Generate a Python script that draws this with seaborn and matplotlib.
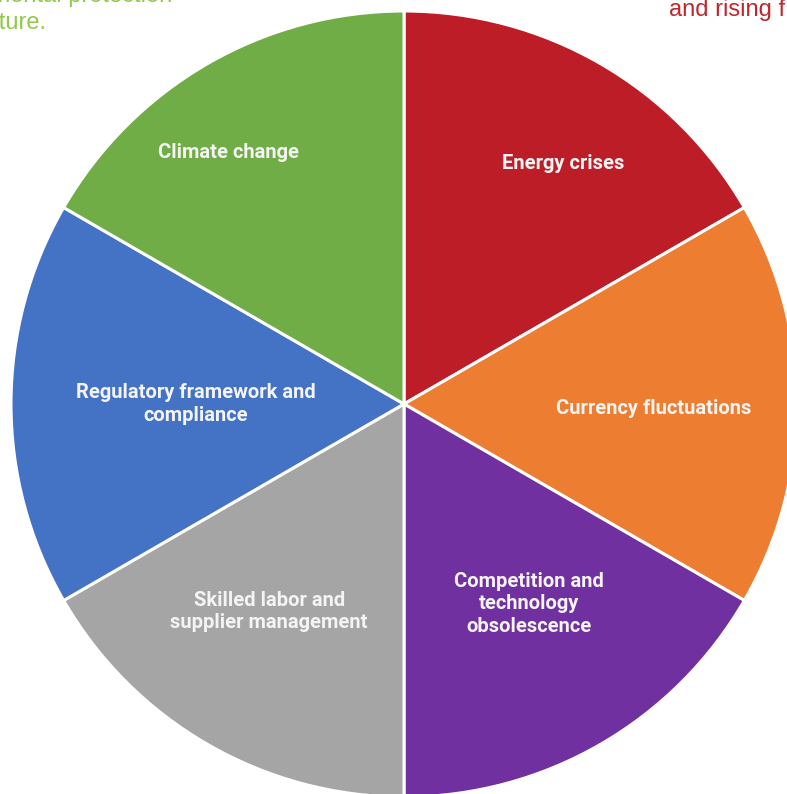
import numpy as np
import matplotlib
matplotlib.use("Agg")
import matplotlib.pyplot as plt
import seaborn as sns

# ---- data ----
categories = [
    "Energy crises",
    "Currency fluctuations",
    "Competition and\ntechnology\nobsolescence",
    "Skilled labor and\nsupplier management",
    "Regulatory framework and\ncompliance",
    "Climate change",
]
shares = [1, 1, 1, 1, 1, 1]
slice_colors = ["#BC1D26", "#ED7D31", "#7030A0", "#A5A5A5", "#4472C4", "#70AD47"]

# cropped surrounding document text
left_snippet = ["environmental protection", "future."]
right_snippet = "and rising f"

# label placement (fraction of radius, angle in degrees)
label_r = [0.735, 0.635, 0.60, 0.63, 0.53, 0.78]
label_ang = [56.5, -1, -58, -123, 180, 125]

sns.set_theme(style="white")
palette = sns.color_palette(slice_colors)

W, H = 787, 794
fig = plt.figure(figsize=(W / 100, H / 100), dpi=100)
ax = fig.add_axes([0, 0, 1, 1])

cx, cy, R = 404, 390, 393
wedges, _ = ax.pie(
    shares,
    colors=palette,
    startangle=90,
    counterclock=False,
    center=(cx, cy),
    radius=R,
    wedgeprops=dict(edgecolor="white", linewidth=2.2),
)
ax.set_xlim(0, W)
ax.set_ylim(0, H)
ax.set_aspect("equal")
ax.axis("off")

for lab, rf, a in zip(categories, label_r, label_ang):
    t = np.deg2rad(a)
    ax.text(cx + rf * R * np.cos(t), cy + rf * R * np.sin(t), lab,
            ha="center", va="center", color="#F4F4F4",
            fontsize=14.5, fontweight="bold", family=["Roboto", "DejaVu Sans"],
            linespacing=1.22)

snip_font = ["Liberation Sans", "DejaVu Sans"]
fig.text(172 / W, 1 - (-4) / H, left_snippet[0], ha="right", va="center",
         color="#92C84E", fontsize=17, family=snip_font)
fig.text(47 / W, 1 - 23 / H, left_snippet[1], ha="right", va="center",
         color="#92C84E", fontsize=17, family=snip_font)
fig.text(669 / W, 1 - 10 / H, right_snippet, ha="left", va="center",
         color="#C0272D", fontsize=17, family=snip_font)

fig.savefig("out.png", dpi=100, facecolor="white")
